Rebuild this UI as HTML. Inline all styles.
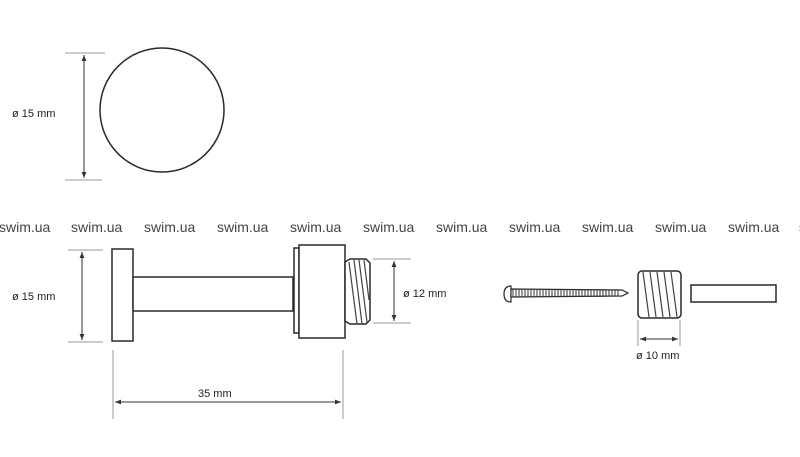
<!DOCTYPE html>
<html><head><meta charset="utf-8"><style>
html,body{margin:0;padding:0;background:#fff;}
svg{display:block;}
text{font-family:"Liberation Sans",sans-serif;}
</style></head><body>
<svg width="800" height="457" viewBox="0 0 800 457" xmlns="http://www.w3.org/2000/svg">
<defs>
<marker id="a" viewBox="0 0 10 10" refX="10" refY="5" markerWidth="6" markerHeight="6" orient="auto-start-reverse"><path d="M0,1 L10,5 L0,9 z" fill="#333"/></marker>
</defs>
<g fill="#444" font-size="14">
<text x="-1" y="232">swim.ua</text><text x="71" y="232">swim.ua</text><text x="144" y="232">swim.ua</text><text x="217" y="232">swim.ua</text><text x="290" y="232">swim.ua</text><text x="363" y="232">swim.ua</text><text x="436" y="232">swim.ua</text><text x="509" y="232">swim.ua</text><text x="582" y="232">swim.ua</text><text x="655" y="232">swim.ua</text><text x="728" y="232">swim.ua</text><text x="799" y="232">swim.ua</text>
</g>
<g stroke="#999" stroke-width="1" fill="none">
<line x1="65" y1="53" x2="105" y2="53"/><line x1="65" y1="180" x2="102" y2="180"/>
<line x1="68" y1="250" x2="103" y2="250"/><line x1="68" y1="342" x2="103" y2="342"/>
<line x1="373" y1="259" x2="411" y2="259"/><line x1="373" y1="323" x2="411" y2="323"/>
<line x1="113" y1="350" x2="113" y2="419"/><line x1="343" y1="350" x2="343" y2="419"/>
<line x1="638" y1="320" x2="638" y2="346"/><line x1="680" y1="320" x2="680" y2="346"/>
</g>
<g stroke="#333" stroke-width="1" fill="none">
<line x1="84" y1="55" x2="84" y2="178" marker-start="url(#a)" marker-end="url(#a)"/>
<line x1="82" y1="252" x2="82" y2="340" marker-start="url(#a)" marker-end="url(#a)"/>
<line x1="394" y1="261" x2="394" y2="321" marker-start="url(#a)" marker-end="url(#a)"/>
<line x1="115" y1="402" x2="341" y2="402" marker-start="url(#a)" marker-end="url(#a)"/>
<line x1="640" y1="339" x2="678" y2="339" marker-start="url(#a)" marker-end="url(#a)"/>
</g>
<g stroke="#2a2a2a" stroke-width="1.5" fill="#fff">
<circle cx="162" cy="110" r="62"/>
<rect x="112" y="249" width="21" height="92"/>
<rect x="133" y="277" width="160" height="34"/>
<rect x="294" y="248" width="5" height="85"/>
<rect x="299" y="245" width="46" height="93"/>
<path d="M345,262 L350,259 L366,259 L370,263 L370,320 L366,324 L350,324 L345,321 Z"/>
<rect x="691" y="285" width="85" height="17"/>
<rect x="638" y="271" width="43" height="47" rx="4"/>
</g>
<g stroke="#444" stroke-width="1.2" fill="none">
<path d="M349,262 L357,324 M354,260 L362,324 M359,260 L367,322 M364,260 L369,300"/>
<path d="M643,272 L649,317 M650,272 L656,317 M657,272 L663,317 M664,272 L670,317 M671,272 L677,317"/>
</g>
<g stroke="#2a2a2a" stroke-width="1.2" fill="#fff">
<path d="M511,286 Q504,286 504,294 Q504,302 511,302 Z"/>
<path d="M511,289 L622,290 L628,293 L622,296 L511,297 Z"/>
</g>
<path d="M513,289 v8 M516,289 v8 M519,289 v8 M522,289 v8 M525,289 v8 M528,289 v8 M531,289 v8 M534,289 v8 M537,289 v8 M540,289 v8 M543,289 v8 M546,289 v8 M549,289 v8 M552,289 v8 M555,289 v8 M558,289 v8 M561,289 v8 M564,289 v8 M567,289 v8 M570,289 v8 M573,289 v8 M576,289 v8 M579,289 v8 M582,289 v8 M585,289 v8 M588,289 v8 M591,289 v8 M594,289 v8 M597,289 v8 M600,289 v8 M603,289 v8 M606,290 v6 M609,290 v6 M612,290 v6 M615,290 v6 M618,290 v6" stroke="#333" stroke-width="1"/>
<g fill="#222" font-size="11">
<text x="12" y="117">ø 15 mm</text>
<text x="12" y="300">ø 15 mm</text>
<text x="403" y="297">ø 12 mm</text>
<text x="198" y="397">35 mm</text>
<text x="636" y="359">ø 10 mm</text>
</g>
</svg>
</body></html>
